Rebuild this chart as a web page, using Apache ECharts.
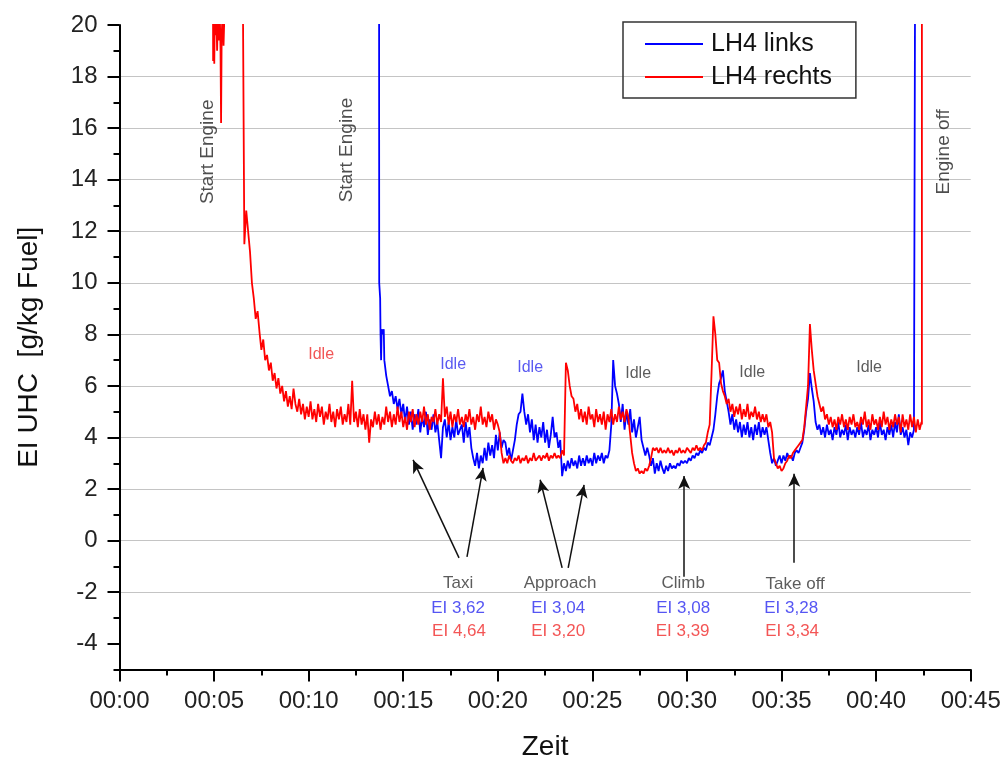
<!DOCTYPE html>
<html>
<head>
<meta charset="utf-8">
<script src="https://cdn.jsdelivr.net/npm/echarts@6/dist/echarts.min.js"></script>
<style>html,body{margin:0;padding:0;background:#fff}#c{width:1002px;height:762px}</style>
</head>
<body>
<div id="c"></div>
<script>
// ---------- DATA (time in minutes, EI UHC in g/kg Fuel) ----------
const SAMPLE_STEP = 0.1; // minutes between logged samples

// LH4 rechts (red)
const redStartup = [[4.94,22],[4.95,18.6],[4.98,20.4],[5.01,18.5],[5.04,20.5],[5.08,19.6],[5.12,20.5],[5.16,19.0],[5.2,20.4],[5.26,19.4],[5.3,20.5],[5.34,19.1],[5.37,16.2],[5.4,19.5],[5.45,20.6],[5.5,19.2],[5.55,20.5],[5.6,22],[6.45,22]];
const redStart = 6.5;
const redValues = [
  24, 11.5, 12.8, 12.0, 11.2,                          // 6.5
  10.0, 9.4, 8.6, 8.9, 8.1, 7.4, 7.8, 7.0, 7.2, 6.6,   // 7
  6.9, 6.2, 6.5, 5.9, 6.3, 5.7, 6.0, 5.4, 5.8, 5.2,    // 8
  5.6, 5.1, 5.9, 5.3, 5.0, 5.5, 4.9, 5.3, 4.7, 5.2,    // 9
  4.8, 5.4, 4.7, 5.1, 4.6, 5.3, 4.8, 5.2, 4.5, 5.0,    // 10
  4.7, 5.3, 4.6, 5.0, 4.4, 5.1, 4.7, 5.2, 4.5, 4.9,    // 11
  4.6, 5.3, 4.5, 6.2, 4.6, 5.0, 4.4, 5.1, 4.5, 4.9,    // 12
  4.3, 4.9, 3.8, 4.7, 4.4, 5.0, 4.5, 4.9, 4.3, 4.8,    // 13
  4.5, 5.2, 4.6, 5.0, 4.4, 4.9, 4.5, 5.2, 4.6, 5.0,    // 14
  4.4, 4.8, 4.3, 5.0, 4.6, 5.1, 4.4, 4.9, 4.5, 5.0,    // 15
  4.6, 5.2, 4.5, 4.9, 4.3, 4.8, 4.6, 5.1, 4.5, 4.9,    // 16
  4.6, 6.3, 4.8, 5.2, 4.5, 5.0, 4.4, 4.9, 4.6, 5.1,    // 17
  4.5, 4.8, 4.4, 4.9, 4.6, 5.1, 4.5, 4.8, 4.3, 4.9,    // 18
  4.6, 5.2, 4.5, 4.8, 4.4, 5.0, 4.6, 4.9, 4.3, 4.7,    // 19
  4.5, 4.2, 3.4, 3.0, 3.2, 3.0, 3.3, 3.1, 3.0, 3.2,    // 20
  3.1, 3.3, 3.0, 3.2, 3.1, 3.3, 3.0, 3.2, 3.1, 3.4,    // 21
  3.1, 3.2, 3.3, 3.1, 3.3, 3.2, 3.4, 3.1, 3.3, 3.2,    // 22
  3.4, 3.2, 3.3, 3.2, 3.5, 3.3, 6.9, 6.6, 6.0, 5.6,    // 23
  5.5, 5.0, 5.3, 4.7, 5.1, 4.6, 5.0, 4.5, 5.2, 4.7,    // 24
  4.9, 4.4, 5.1, 4.6, 4.9, 4.5, 5.0, 4.3, 4.9, 4.6,    // 25
  5.1, 4.5, 4.9, 4.6, 5.2, 4.7, 5.0, 4.6, 5.1, 4.8,    // 26
  4.8, 3.4, 3.0, 2.7, 2.8, 2.6, 2.7, 2.6, 2.8, 2.7,    // 27
  2.9, 3.2, 3.6, 3.5, 3.6, 3.4, 3.6, 3.4, 3.5, 3.4,    // 28
  3.6, 3.4, 3.5, 3.3, 3.5, 3.4, 3.6, 3.4, 3.5, 3.4,    // 29
  3.6, 3.5, 3.4, 3.6, 3.5, 3.7, 3.5, 3.6, 3.5, 3.7,    // 30
  3.8, 4.2, 4.5, 6.5, 8.7, 8.0, 7.0, 6.9, 6.1, 5.8,    // 31
  5.6, 5.3, 5.5, 5.0, 5.3, 4.8, 5.2, 4.9, 5.3, 4.7,    // 32
  5.1, 4.8, 5.3, 4.7, 5.0, 4.8, 5.2, 4.7, 5.0, 4.6,    // 33
  4.9, 4.6, 4.9, 4.4, 4.6, 4.2, 3.2, 3.0, 2.8, 2.9,    // 34
  2.7, 2.8, 3.0, 3.1, 3.3, 3.2, 3.4, 3.5, 3.6, 3.7,    // 35
  3.8, 3.9, 4.4, 5.2, 6.0, 8.4, 7.4, 6.6, 6.1, 5.6,    // 36
  5.3, 5.0, 5.2, 4.7, 4.9, 4.5, 4.8, 4.4, 4.7, 4.3,    // 37
  4.8, 4.5, 4.9, 4.4, 4.7, 4.3, 4.8, 4.5, 4.9, 4.4,    // 38
  4.6, 4.3, 4.8, 4.5, 5.0, 4.4, 4.7, 4.3, 4.9, 4.5,    // 39
  4.7, 4.3, 4.8, 4.4, 5.0, 4.5, 4.8, 4.3, 4.7, 4.4,    // 40
  4.9, 4.5, 4.8, 4.2, 4.9, 4.4, 4.7, 4.3, 4.9, 4.4,    // 41
  4.8, 4.2, 4.7, 4.3, 4.6                              // 42
];
const redEnd = [[42.42,4.5],[42.42,25]];

// LH4 links (blue)
const blueStartup = [[13.72,25],[13.73,10.0],[13.78,9.4],[13.8,8.0],[13.83,7.0],[13.86,8.2],[13.92,8.0],[13.97,8.2]];
const blueStart = 14.0;
const blueValues = [
  7.0, 6.4, 6.0, 5.6, 5.8, 5.3, 5.6, 5.1, 5.5, 4.9,    // 14
  5.3, 4.6, 5.2, 4.5, 5.0, 4.3, 4.9, 4.5, 5.1, 4.2,    // 15
  4.8, 4.4, 5.0, 4.1, 4.7, 4.3, 4.9, 4.2, 4.6, 3.9,    // 16
  3.2, 4.4, 4.7, 4.0, 4.6, 3.9, 4.4, 4.0, 4.7, 4.1,    // 17
  4.1, 4.5, 3.8, 4.6, 4.0, 4.4, 3.6, 3.2, 2.9, 3.4,    // 18
  2.8, 3.3, 3.0, 3.6, 3.1, 3.8, 3.3, 3.7, 3.2, 4.1,    // 19
  3.5, 4.2, 3.6, 3.9, 3.8, 3.3, 3.6, 3.1, 3.5, 3.9,    // 20
  4.5, 4.9, 5.0, 5.7, 5.0, 4.5, 4.9, 4.2, 4.7, 3.9,    // 21
  4.5, 3.8, 4.4, 4.0, 4.6, 3.8, 4.3, 3.6, 4.1, 4.8,    // 22
  4.0, 4.2, 3.6, 3.9, 2.5, 3.0, 2.7, 3.1, 2.8, 3.2,    // 23
  2.9, 3.1, 2.8, 3.3, 2.9, 3.2, 2.9, 3.3, 3.0, 3.2,    // 24
  2.9, 3.4, 3.0, 3.3, 3.1, 3.4, 3.0, 3.3, 3.2, 3.5,    // 25
  4.5, 7.0, 6.0, 5.7, 5.3, 4.6, 5.3, 4.3, 5.0, 4.5,    // 26
  5.1, 4.2, 4.7, 4.0, 4.4, 4.8, 3.9, 3.6, 3.3, 3.6,    // 27
  3.3, 2.9, 3.2, 2.6, 3.0, 2.7, 3.1, 2.8, 2.6, 2.9,    // 28
  2.7, 3.0, 2.8, 2.9, 2.8, 3.0, 2.9, 3.1, 3.0, 3.1,    // 29
  3.0, 3.2, 3.1, 3.3, 3.2, 3.4, 3.3, 3.5, 3.4, 3.6,    // 30
  3.5, 3.8, 3.7, 4.0, 4.3, 4.9, 5.6, 6.1, 6.3, 6.6,    // 31
  5.8, 5.4, 5.0, 4.5, 4.9, 4.3, 4.7, 4.2, 4.6, 4.0,    // 32
  4.5, 4.1, 4.6, 4.0, 4.4, 3.9, 4.5, 4.1, 4.6, 4.0,    // 33
  4.4, 4.1, 4.4, 3.9, 3.4, 3.0, 3.2, 2.9, 3.1, 3.3,    // 34
  3.0, 3.3, 3.1, 3.4, 3.2, 3.3, 3.1, 3.4, 3.5, 3.4,    // 35
  3.6, 3.8, 4.3, 5.0, 5.5, 6.5, 5.9, 5.4, 4.6, 4.3,    // 36
  4.5, 4.1, 4.4, 4.0, 4.5, 4.1, 4.3, 3.9, 4.4, 4.1,    // 37
  4.6, 4.0, 4.3, 4.1, 4.5, 3.9, 4.4, 4.1, 4.3, 4.0,    // 38
  4.4, 4.1, 4.6, 4.0, 4.3, 4.1, 4.5, 3.9, 4.3, 4.1,    // 39
  4.4, 4.0, 4.6, 4.1, 4.3, 3.9, 4.4, 4.1, 4.5, 4.0,    // 40
  4.6, 4.2, 4.9, 4.1, 4.4, 4.0, 4.3, 3.7, 4.2, 4.0,    // 41
  4.3                                                  // 42
];
const blueEnd = [[42.07,25]];

// Axis ticks
const yMajorTicks = [-4,-2,0,2,4,6,8,10,12,14,16,18,20];

// Annotations: [text, time, value]
const eventLabels = [['Start Engine',4.68,15.08],['Start Engine',12.03,15.15],['Engine off',43.6,15.08]];
const idleLabels = [['Idle',10.66,7.2,'red'],['Idle',17.64,6.82,'blue'],['Idle',21.71,6.70,'blue'],['Idle',27.42,6.47,'black'],['Idle',33.45,6.51,'black'],['Idle',39.63,6.70,'black']];
const phaseLabels = [['Taxi',17.9,-1.64],['Approach',23.29,-1.64],['Climb',29.8,-1.64],['Take off',35.72,-1.71]];
const eiLinks = [['EI 3,62',17.9,-2.64],['EI 3,04',23.19,-2.64],['EI 3,08',29.8,-2.64],['EI 3,28',35.51,-2.64]];
const eiRechts = [['EI 4,64',17.95,-3.5],['EI 3,20',23.19,-3.5],['EI 3,39',29.77,-3.5],['EI 3,34',35.56,-3.5]];
// Arrows: [tailTime, tailValue, headTime, headValue]
const arrows = [[17.95,-0.67,15.52,3.13],[18.37,-0.63,19.22,2.82],[23.40,-1.06,22.24,2.36],[23.72,-1.06,24.56,2.16],[29.85,-1.40,29.85,2.51],[35.67,-0.86,35.67,2.59]];

// ---------- BUILD ----------
function build(startup, start, values, end) {
  const out = startup.slice();
  values.forEach((v, i) => out.push([+(start + i * SAMPLE_STEP).toFixed(2), v]));
  return out.concat(end);
}
const redData = build(redStartup, redStart, redValues, redEnd);
const blueData = build(blueStartup, blueStart, blueValues, blueEnd);

const FONT = "'Liberation Sans', Arial, sans-serif";
const colors = { red: '#ee2a2a', blue: '#3030ee', black: '#333333' };

const annot = [];
eventLabels.forEach(a => annot.push({ value: [a[1], a[2]], label: { formatter: a[0], rotate: 90, fontSize: 19, color: '#222' } }));
idleLabels.forEach(a => annot.push({ value: [a[1], a[2]], label: { formatter: a[0], fontSize: 16, color: colors[a[3]] } }));
phaseLabels.forEach(a => annot.push({ value: [a[1], a[2]], label: { formatter: a[0], fontSize: 17, color: '#333' } }));
eiLinks.forEach(a => annot.push({ value: [a[1], a[2]], label: { formatter: a[0], fontSize: 17, color: '#2a2af0' } }));
eiRechts.forEach(a => annot.push({ value: [a[1], a[2]], label: { formatter: a[0], fontSize: 17, color: '#f02a2a' } }));

const chart = echarts.init(document.getElementById('c'), null, { renderer: 'canvas' });
const pad = n => (n < 10 ? '0' : '') + n;

chart.setOption({
  animation: false,
  backgroundColor: '#fff',
  textStyle: { fontFamily: FONT },
  grid: { left: 119.5, right: 31.3, top: 25, bottom: 92.5, containLabel: false, outerBoundsMode: 'none' },
  legend: {
    left: 623, top: 22, orient: 'vertical',
    data: ['LH4 links', 'LH4 rechts'],
    icon: 'rect',
    itemWidth: 58, itemHeight: 2, itemGap: 7,
    padding: [9, 24, 8, 22],
    borderColor: '#333', borderWidth: 1.5, borderRadius: 0,
    textStyle: { fontSize: 25, color: '#111', fontFamily: FONT, lineHeight: 26, padding: [0, 0, 0, 3] }
  },
  xAxis: {
    type: 'value', min: 0, max: 45, interval: 5,
    name: 'Zeit', nameLocation: 'middle', nameGap: 64,
    nameTextStyle: { fontSize: 28, color: '#111', fontFamily: FONT },
    axisLine: { onZero: false, lineStyle: { color: '#000', width: 2 } },
    axisTick: { length: 12, lineStyle: { color: '#000', width: 2 } },
    minorTick: { show: true, splitNumber: 2, length: 6, lineStyle: { color: '#000', width: 2 } },
    axisLabel: { fontSize: 24, color: '#222', margin: 20, fontFamily: FONT, formatter: v => '00:' + pad(v) },
    splitLine: { show: false }
  },
  yAxis: [{
    type: 'value', min: -5, max: 20, interval: 1,
    name: 'EI UHC  [g/kg Fuel]', nameLocation: 'middle', nameGap: 76, nameRotate: 90,
    nameTextStyle: { fontSize: 28, color: '#111', fontFamily: FONT },
    axisLine: { show: true, onZero: false, lineStyle: { color: '#000', width: 2 } },
    axisTick: { show: true, customValues: yMajorTicks, length: 12, lineStyle: { color: '#000', width: 2 } },
    axisLabel: { customValues: yMajorTicks, fontSize: 24, color: '#222', margin: 22, fontFamily: FONT },
    splitLine: { show: true, showMaxLine: false, showMinLine: false, lineStyle: { color: '#c4c4c4', width: 1.2 } }
  }, {
    type: 'value', min: -5, max: 20, interval: 1, position: 'left',
    axisLine: { show: false, onZero: false },
    axisTick: { show: true, length: 6, lineStyle: { color: '#000', width: 2 } },
    axisLabel: { show: false },
    splitLine: { show: false }
  }],
  series: [
    { name: 'LH4 links', type: 'line', data: blueData, symbol: 'none', color: '#0000ff',
      lineStyle: { color: '#0000ff', width: 1.8 }, clip: true, z: 3 },
    { name: 'LH4 rechts', type: 'line', data: redData, symbol: 'none', color: '#ff0000',
      lineStyle: { color: '#ff0000', width: 1.8 }, clip: true, z: 4 },
    { name: 'annotations', type: 'scatter', data: annot, symbolSize: 0, silent: true, z: 5,
      itemStyle: { color: 'transparent' },
      label: { show: true, position: 'inside', fontFamily: FONT },
      markLine: {
        silent: true, symbol: ['none', 'arrow'], symbolSize: [9, 13],
        lineStyle: { color: '#111', width: 1.5, type: 'solid' },
        label: { show: false },
        data: arrows.map(a => [{ coord: [a[0], a[1]] }, { coord: [a[2], a[3]] }])
      }
    }
  ]
});
</script>
</body>
</html>
